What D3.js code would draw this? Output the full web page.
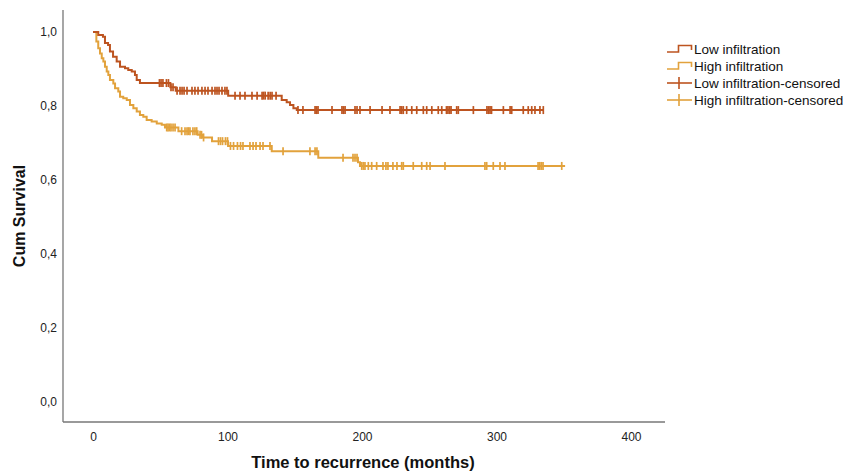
<!DOCTYPE html>
<html>
<head>
<meta charset="utf-8">
<script src="https://cdn.jsdelivr.net/npm/d3@7"></script>
<style>
  body { margin: 0; background: #fff; }
  svg { display: block; font-family: "Liberation Sans", Arial, Helvetica, sans-serif; }
</style>
</head>
<body>
<svg id="chart" width="846" height="473"></svg>
<script>
// step points: time (months) where survival drops, and the new survival value
var lowTimes = [0, 3.9, 7.4, 8.9, 11.2, 12.6, 14.9, 17.6, 20.1, 23.8, 26.2, 28.8, 31.2, 32.5, 34.9, 57.5, 61.5, 100.5, 140.3, 144, 146.5, 149, 151.5];
var lowSurv  = [1.0, 0.992, 0.987, 0.970, 0.965, 0.947, 0.933, 0.920, 0.906, 0.902, 0.897, 0.893, 0.884, 0.870, 0.862, 0.851, 0.841, 0.828, 0.816, 0.810, 0.803, 0.794, 0.789];
var lowEnd = 334.8;
var lowCensor = [49.4, 50.6, 52.0, 54.6, 56.1, 58.0, 59.5, 62.5, 64.7, 66.2, 67.7, 69.9, 73.6, 75.8, 78.1, 81.0, 83.3, 85.5, 88.5, 90.7, 92.2, 93.7, 95.9, 98.1, 99.6,
  105.6, 109.3, 113.0, 118.2, 122.0, 125.7, 126.8, 128.0, 130.2, 131.7, 133.1, 136.1, 152.4, 156.1, 165.1, 166.2, 167.3, 177.7, 185.1, 186.2, 187.4,
  194.8, 196.3, 198.5, 206.0, 214.9, 220.8, 228.3, 229.5, 230.7, 233.2, 237.0, 240.7, 245.6, 248.1, 251.9, 256.7, 259.3, 262.8, 263.9, 265.1, 266.2,
  270.4, 271.6, 282.8, 292.9, 294.1, 295.2, 296.3, 305.1, 310.1, 311.3, 319.9, 323.6, 326.2, 328.6, 332.3, 334.8];

var highTimes = [0, 2.5, 3.9, 5.2, 6.5, 7.7, 8.9, 10.2, 11.4, 12.6, 15.1, 16.4, 18.8, 20.1, 22.5, 25.1, 27.5, 30.0, 32.5, 34.9, 37.4, 39.9, 43.6, 47.4, 51.1, 53.5, 63.5, 77.8, 81.5, 88.5, 100.4, 132.9, 167.5, 197.0, 198.5];
var highSurv  = [1.0, 0.974, 0.956, 0.942, 0.929, 0.920, 0.906, 0.893, 0.884, 0.870, 0.861, 0.848, 0.839, 0.825, 0.821, 0.816, 0.803, 0.794, 0.785, 0.776, 0.771, 0.762, 0.758, 0.753, 0.749, 0.742, 0.732, 0.722, 0.715, 0.705, 0.692, 0.678, 0.660, 0.648, 0.638];
var highEnd = 351;
var highCensor = [54.8, 55.8, 56.9, 58.0, 59.5, 61.0, 65.9, 68.4, 69.9, 71.0, 72.1, 74.3, 75.8, 77.1, 79.6, 80.7, 82.2, 93.3, 94.8, 96.3, 98.5, 100.0,
  102.2, 104.5, 107.4, 109.7, 111.5, 116.7, 119.0, 121.2, 124.2, 126.4, 131.6, 141.3, 161.3, 165.1, 166.5, 185.9, 193.3, 194.8, 196.3, 199.8, 201.0,
  202.2, 204.7, 207.2, 210.9, 215.6, 217.8, 219.3, 223.0, 226.0, 229.5, 230.7, 238.1, 244.4, 248.1, 250.6, 261.7, 291.4, 292.7, 297.6, 302.6, 306.3,
  330.9, 332.2, 333.4, 334.6, 348.5];

var xTicks = [0, 100, 200, 300, 400];
var yTicks = [0, 0.2, 0.4, 0.6, 0.8, 1.0];
var legendLabels = ["Low infiltration", "High infiltration", "Low infiltration-censored", "High infiltration-censored"];

var lowColor = "#bd5420", highColor = "#e2a23c";

var svg = d3.select("#chart");
var frame = {left: 63, right: 665, top: 10, bottom: 422};

var x = d3.scaleLinear().domain([0, 400]).range([93, 631]);
var y = d3.scaleLinear().domain([0, 1]).range([402, 32]);

// axis lines
svg.append("line").attr("x1", frame.left).attr("x2", frame.left)
   .attr("y1", frame.top).attr("y2", frame.bottom)
   .attr("stroke", "#777").attr("stroke-width", 1.3);
svg.append("line").attr("x1", frame.left).attr("x2", frame.right)
   .attr("y1", frame.bottom).attr("y2", frame.bottom)
   .attr("stroke", "#777").attr("stroke-width", 1.3);

var fmt = function (d) { return d3.format(".1f")(d).replace(".", ","); };

var yAxis = svg.append("g")
   .attr("transform", "translate(" + frame.left + ",0)")
   .call(d3.axisLeft(y).tickValues(yTicks).tickSize(0).tickPadding(6).tickFormat(fmt));
var xAxis = svg.append("g")
   .attr("transform", "translate(0," + frame.bottom + ")")
   .call(d3.axisBottom(x).tickValues(xTicks).tickSize(0).tickPadding(10).tickFormat(d3.format("d")));
[xAxis, yAxis].forEach(function (a) {
  a.select(".domain").remove();
  a.selectAll("text").attr("font-size", 12).attr("fill", "#222")
   .attr("font-family", "'Liberation Sans', Arial, sans-serif");
});

svg.append("text")
   .attr("transform", "translate(25,216) rotate(-90)")
   .attr("text-anchor", "middle")
   .attr("font-size", 16).attr("font-weight", "bold").attr("fill", "#111")
   .text("Cum Survival");
svg.append("text")
   .attr("x", 363).attr("y", 468)
   .attr("text-anchor", "middle")
   .attr("font-size", 16.5).attr("font-weight", "bold").attr("fill", "#111")
   .text("Time to recurrence (months)");

function survAt(times, surv, t) {
  var i = d3.bisectRight(times, t) - 1;
  return surv[Math.max(0, i)];
}

var line = d3.line().curve(d3.curveStepAfter)
   .x(function (d) { return x(d[0]); })
   .y(function (d) { return y(d[1]); });

function drawCurve(times, surv, end, censor, color) {
  var pts = times.map(function (t, i) { return [t, surv[i]]; });
  pts.push([end, surv[surv.length - 1]]);
  svg.append("path").datum(pts)
     .attr("d", line)
     .attr("fill", "none")
     .attr("stroke", color)
     .attr("stroke-width", 2);
  svg.append("g").selectAll("line").data(censor).join("line")
     .attr("x1", function (d) { return x(d); })
     .attr("x2", function (d) { return x(d); })
     .attr("y1", function (d) { return y(survAt(times, surv, d)) - 4; })
     .attr("y2", function (d) { return y(survAt(times, surv, d)) + 4; })
     .attr("stroke", color)
     .attr("stroke-width", 1.7);
}

drawCurve(highTimes, highSurv, highEnd, highCensor, highColor);
drawCurve(lowTimes, lowSurv, lowEnd, lowCensor, lowColor);

// legend
var legend = svg.append("g").attr("transform", "translate(667,0)");
var rowY = [49, 66, 83, 100];
var colors = [lowColor, highColor, lowColor, highColor];
legendLabels.forEach(function (lab, i) {
  var cy = rowY[i];
  var g = legend.append("g").attr("transform", "translate(0," + cy + ")");
  if (i < 2) {
    g.append("path")
     .attr("d", "M0,3H11.5V-3.5H24.5V1")
     .attr("fill", "none").attr("stroke", colors[i]).attr("stroke-width", 1.6);
  } else {
    g.append("line").attr("x1", 0).attr("x2", 25).attr("y1", 0).attr("y2", 0)
     .attr("stroke", colors[i]).attr("stroke-width", 1.6);
    g.append("line").attr("x1", 12).attr("x2", 12).attr("y1", -6).attr("y2", 6)
     .attr("stroke", colors[i]).attr("stroke-width", 1.6);
  }
  g.append("text").attr("x", 27).attr("y", 0).attr("dy", "0.35em")
   .attr("font-size", 13.5).attr("fill", "#111")
   .text(lab);
});
</script>
</body>
</html>
